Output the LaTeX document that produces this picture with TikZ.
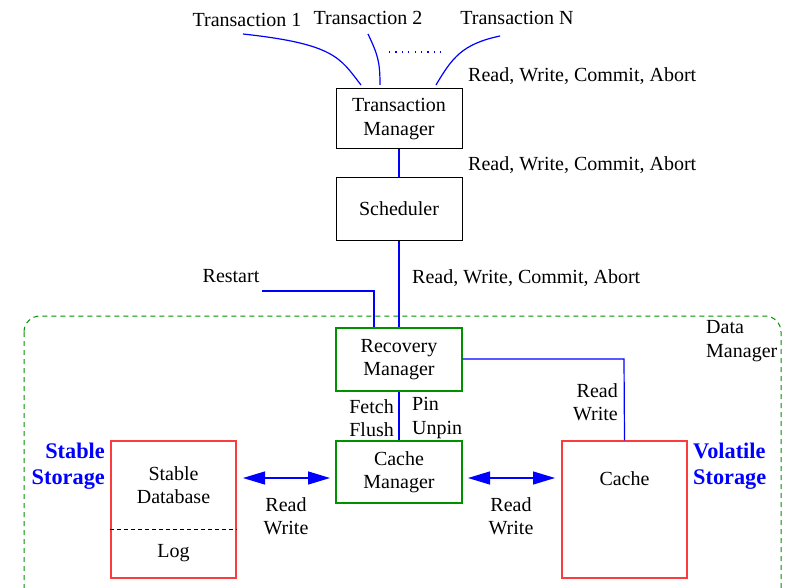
\documentclass[tikz,border=0pt]{standalone}
\usepackage{fontspec}
\setmainfont{Liberation Serif}
\usetikzlibrary{arrows.meta}
\definecolor{lblue}{RGB}{0,0,255}
\definecolor{dgreen}{RGB}{0,145,0}
\definecolor{lred}{RGB}{250,60,60}
\begin{document}
\begin{tikzpicture}[x=1pt,y=-1pt,
  every node/.style={font=\fontsize{20}{23.5}\selectfont, inner sep=0pt, align=center},
  blkbox/.style={draw=black, line width=1pt, minimum width=126pt},
  grnbox/.style={draw=dgreen, line width=1.3pt, minimum width=126pt, minimum height=63pt},
  redbox/.style={draw=lred, line width=1.5pt, minimum width=125pt, minimum height=137pt},
  wire/.style={draw=lblue, line width=1.2pt},
  dbl/.style={wire, {Triangle[length=22pt,width=13pt]}-{Triangle[length=22pt,width=13pt]}},
  bigblue/.style={font=\fontsize{22.3}{26}\selectfont\bfseries, text=lblue}
]
\useasboundingbox (0,0) rectangle (789,588);
\clip (0,0) rectangle (789,588);

% Data manager region
\draw[dgreen, line width=1pt, dash pattern=on 5pt off 4pt, rounded corners=16pt] (24,316) rectangle (781,606);
\node[anchor=west, align=left] (dmlbl) at (706,341) {Data\\Manager};

% Transactions
\node (t1) at (247,20) {Transaction 1};
\node (t2) at (368,18) {Transaction 2};
\node (tn) at (517,18) {Transaction N};
\coordinate (t1s) at (243,34);
\coordinate (t2s) at (368,34);
\coordinate (tns) at (500,36);
\coordinate (t1e) at (361,85);
\coordinate (t2e) at (380,85);
\coordinate (tne) at (436,85);
\draw[wire] (t1s) .. controls (335,44) and (340,58) .. (t1e);
\draw[wire] (t2s) .. controls (378,55) and (380,62) .. (t2e);
\draw[wire] (tns) .. controls (462,44) and (452,58) .. (tne);
\coordinate (d1) at (389,52);
\coordinate (d2) at (446,52);
\draw[lblue, line width=1.2pt, dash pattern=on 1.2pt off 5.2pt] (d1) -- (d2);
\node[anchor=west] (rw1) at (468,76) {Read, Write, Commit, Abort};

% Transaction manager and scheduler
\node[blkbox, minimum height=60pt] (tm) at (399,119) {Transaction\\Manager};
\node[blkbox, minimum height=62pt] (sch) at (399,209) {Scheduler};
\draw[wire] (tm.south) -- (sch.north);
\node[anchor=west] (rw2) at (468,165) {Read, Write, Commit, Abort};

% Recovery manager
\node[grnbox] (rm) at (399,359.5) {Recovery\\Manager};
\draw[wire] (sch.south) -- (rm.north);
\node[anchor=west] (rw3) at (412,278) {Read, Write, Commit, Abort};
\node (restart) at (231,276) {Restart};
\coordinate (rs) at (262,291);
\coordinate (rsc) at (374,291);
\draw[wire] (rs) -- (rsc) -- (rsc |- rm.north);

% Cache manager
\node[grnbox, minimum height=62pt] (cm) at (399,472) {Cache\\Manager};
\draw[wire] (rm.south) -- (cm.north);
\node[anchor=east, align=right] (ff) at (394,418) {Fetch\\Flush};
\node[anchor=west, align=left] (pu) at (412,418) {Pin\\Unpin};

% Stable storage
\node[redbox] (sd) at (173.5,509.5) {};
\node (sdt) at (173.5,485) {Stable\\Database};
\node (log) at (173.5,553) {Log};
\draw[black, line width=0.8pt, dash pattern=on 4pt off 3pt] (sd.west |- 0,529) -- (sd.east |- 0,529);
\node[bigblue, anchor=east, align=right] (ss) at (105,466) {Stable\\Storage};

% Cache
\node[redbox] (cache) at (624.5,509.5) {};
\node (ct) at (624.5,479) {Cache};
\node[bigblue, anchor=west, align=left] (vs) at (693,466) {Volatile\\Storage};

% Connections
\draw[wire] (rm.east |- 0,359) -- (624,359) -- (cache.north);
\node[anchor=east, align=right] (rw4) at (618,402) {Read\\Write};

\coordinate (a1) at (243,478);
\coordinate (a2) at (330,478);
\coordinate (a3) at (468,478);
\coordinate (a4) at (555,478);
\draw[dbl] (a1) -- (a2);
\draw[dbl] (a3) -- (a4);
\node (rw5) at (286,516) {Read\\Write};
\node (rw6) at (511,516) {Read\\Write};
\end{tikzpicture}
\end{document}
